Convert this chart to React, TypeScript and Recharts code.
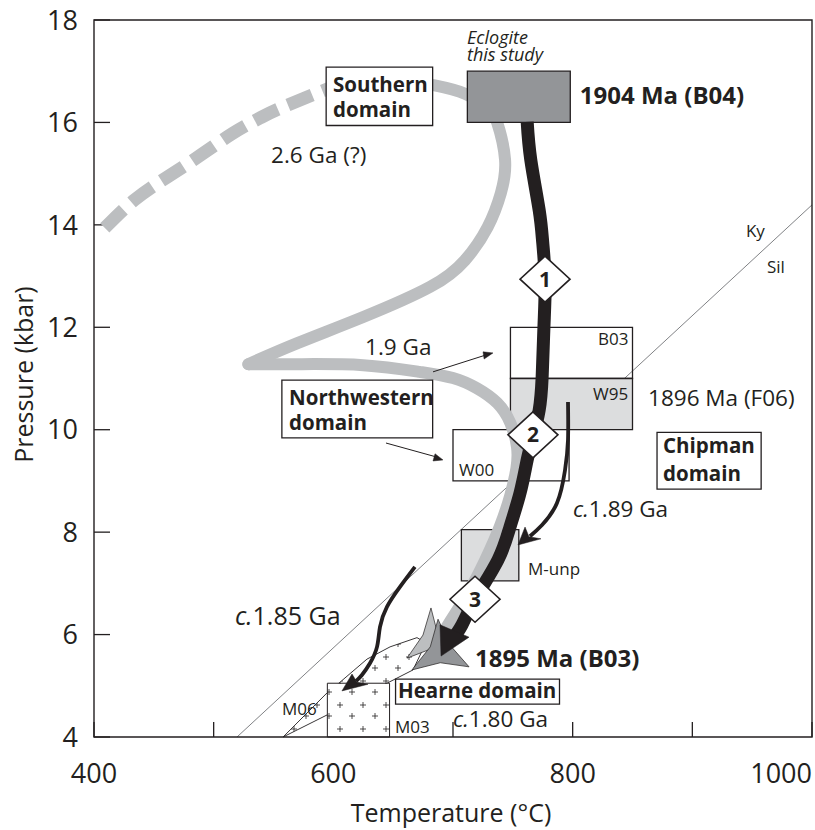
import { ComposedChart, Scatter, XAxis, YAxis } from "recharts";

type Pt = { t: number; p: number };
type Note = Pt & { text: string };
type Box = { t1: number; t2: number; p1: number; p2: number };

const INK = "#231f20";
const PATH_GREY = "#bcbec0";
const MID_GREY = "#939598";
const PALE_GREY = "#dcddde";
const FONT = "'Open Sans', 'Noto Sans', sans-serif";

if (typeof document !== "undefined") document.body.style.margin = "0";

// axes
const tempTicks = [400, 500, 600, 700, 800, 900, 1000];
const tempLabels = [400, 600, 800, 1000];
const presTicks = [4, 6, 8, 10, 12, 14, 16, 18];

// Ky = Sil reaction line
const kySil: Pt[] = [
  { t: 519.5, p: 4 },
  { t: 1000, p: 14.39 },
];

// Southern domain, 2.6 Ga (?) - dashed part
const south26: Pt[] = [
  { t: 409, p: 13.94 },
  { t: 434, p: 14.49 },
  { t: 461, p: 14.93 },
  { t: 489, p: 15.36 },
  { t: 516, p: 15.79 },
  { t: 539, p: 16.09 },
  { t: 558, p: 16.3 },
  { t: 600, p: 16.7 },
];

// Northwestern / Southern 1.9 Ga loop (grey)
const loopUpper: Pt[] = [
  { t: 598, p: 16.7 },
  { t: 647, p: 16.83 },
  { t: 683, p: 16.73 },
  { t: 710, p: 16.56 },
  { t: 729, p: 16.28 },
  { t: 737, p: 15.99 },
  { t: 743.5, p: 15.27 },
  { t: 740, p: 14.62 },
  { t: 729, p: 13.96 },
  { t: 710, p: 13.31 },
  { t: 681, p: 12.79 },
  { t: 625, p: 12.2 },
  { t: 570, p: 11.69 },
  { t: 529, p: 11.28 },
];
const loopLower: Pt[] = [
  { t: 529, p: 11.28 },
  { t: 570, p: 11.28 },
  { t: 625, p: 11.26 },
  { t: 672, p: 11.13 },
  { t: 700, p: 11.01 },
  { t: 720, p: 10.81 },
  { t: 737, p: 10.52 },
  { t: 748, p: 10.13 },
  { t: 753.5, p: 9.66 },
  { t: 753, p: 9.25 },
  { t: 748, p: 8.73 },
  { t: 739, p: 8.1 },
  { t: 727, p: 7.46 },
  { t: 712.5, p: 6.81 },
  { t: 697.5, p: 6.25 },
  { t: 687.5, p: 5.85 },
];

// eclogite path (this study)
const eclogitePath: Pt[] = [
  { t: 762, p: 16.01 },
  { t: 765, p: 15.27 },
  { t: 772, p: 14.29 },
  { t: 775, p: 13.65 },
  { t: 777, p: 12.92 },
  { t: 776, p: 12.01 },
  { t: 774.5, p: 11.03 },
  { t: 772, p: 10.38 },
  { t: 767, p: 9.88 },
  { t: 762, p: 9.41 },
  { t: 756, p: 8.76 },
  { t: 747.6, p: 8.1 },
  { t: 737.6, p: 7.46 },
  { t: 718.4, p: 6.69 },
  { t: 707.5, p: 6.19 },
  { t: 699, p: 5.89 },
];
const eclogiteHead: Pt[] = [
  { t: 690, p: 5.58 },
  { t: 713.4, p: 5.95 },
  { t: 689.1, p: 6.19 },
];

// c.1.89 Ga and c.1.85 Ga paths
const path189: Pt[] = [
  { t: 796.1, p: 10.54 },
  { t: 796.1, p: 9.8 },
  { t: 793.6, p: 9.21 },
  { t: 786.9, p: 8.57 },
  { t: 774.4, p: 8.14 },
  { t: 764.3, p: 7.92 },
];
const head189: Pt[] = [
  { t: 754.3, p: 7.75 },
  { t: 760.2, p: 8.1 },
  { t: 763.5, p: 7.91 },
  { t: 773.5, p: 7.87 },
];
const path185: Pt[] = [
  { t: 668.2, p: 7.32 },
  { t: 655.7, p: 6.93 },
  { t: 644.8, p: 6.54 },
  { t: 639, p: 6.15 },
  { t: 636.5, p: 5.76 },
  { t: 630.6, p: 5.44 },
  { t: 623.9, p: 5.21 },
  { t: 619, p: 5.09 },
];
const head185: Pt[] = [
  { t: 607.2, p: 4.9 },
  { t: 615.6, p: 5.23 },
  { t: 619.8, p: 5.07 },
  { t: 629, p: 5.03 },
];

// pointer arrows
const pointer19: Pt[] = [
  { t: 683.3, p: 11.13 },
  { t: 727.6, p: 11.46 },
];
const pointer19Head: Pt[] = [
  { t: 733.4, p: 11.5 },
  { t: 726, p: 11.38 },
  { t: 725.1, p: 11.52 },
];
const pointerNW: Pt[] = [
  { t: 644, p: 9.74 },
  { t: 685.8, p: 9.47 },
];
const pointerNWHead: Pt[] = [
  { t: 691.6, p: 9.41 },
  { t: 683.3, p: 9.39 },
  { t: 685, p: 9.53 },
];

// 1895 Ma (B03) fields
const fieldLight: Pt[] = [
  { t: 681.6, p: 6.52 },
  { t: 674.9, p: 5.99 },
  { t: 661.6, p: 5.54 },
  { t: 680.5, p: 5.71 },
  { t: 699.2, p: 5.66 },
  { t: 687, p: 6.03 },
];
const fieldDark: Pt[] = [
  { t: 687.5, p: 6.3 },
  { t: 681, p: 5.76 },
  { t: 665.7, p: 5.31 },
  { t: 689.4, p: 5.45 },
  { t: 713.4, p: 5.37 },
  { t: 697.6, p: 5.79 },
];

// Hearne domain field (M06 / M03)
const hearneField: Pt[] = [
  { t: 558, p: 4.0 },
  { t: 594.7, p: 4.86 },
  { t: 605.6, p: 5.07 },
  { t: 628.1, p: 5.52 },
  { t: 647.4, p: 5.76 },
  { t: 669.9, p: 5.94 },
  { t: 677.4, p: 5.84 },
  { t: 666.6, p: 5.31 },
  { t: 646.5, p: 5.07 },
  { t: 594.7, p: 4.43 },
];

// P-T boxes
const eclogiteBox: Box = { t1: 712, t2: 798, p1: 16, p2: 17 };
const b03Box: Box = { t1: 748, t2: 850, p1: 11, p2: 12 };
const w95Box: Box = { t1: 748, t2: 850, p1: 10, p2: 11 };
const w00Box: Box = { t1: 700, t2: 797, p1: 9, p2: 10 };
const mUnpBox: Box = { t1: 707, t2: 755, p1: 7.05, p2: 8.05 };
const m03Box: Box = { t1: 595, t2: 647, p1: 4, p2: 5.05 };
const southernBox: Box = { t1: 594, t2: 683, p1: 15.94, p2: 17.08 };
const northwesternBox: Box = { t1: 557, t2: 683, p1: 9.84, p2: 10.97 };
const chipmanBox: Box = { t1: 870.5, t2: 957.5, p1: 8.84, p2: 9.95 };
const hearneBox: Box = { t1: 652, t2: 789, p1: 4.64, p2: 5.13 };
const frameBox: Box = { t1: 400, t2: 1000, p1: 4, p2: 18 };

// text
const eclogiteNote: Note[] = [
  { t: 711.7, p: 17.53, text: "Eclogite" },
  { t: 711.7, p: 17.2, text: "this study" },
];
const ageBold: Note[] = [
  { t: 806, p: 16.36, text: "1904 Ma (B04)" },
  { t: 718.4, p: 5.37, text: "1895 Ma (B03)" },
];
const domainNames: Note[] = [
  { t: 599.7, p: 16.59, text: "Southern" },
  { t: 599.7, p: 16.11, text: "domain" },
  { t: 563, p: 10.48, text: "Northwestern" },
  { t: 563, p: 9.99, text: "domain" },
  { t: 875.5, p: 9.55, text: "Chipman" },
  { t: 875.5, p: 9.0, text: "domain" },
  { t: 654, p: 4.76, text: "Hearne domain" },
];
const ageNotes: Note[] = [
  { t: 548, p: 15.21, text: "2.6 Ga (?)" },
  { t: 626.5, p: 11.46, text: "1.9 Ga" },
  { t: 863, p: 10.46, text: "1896 Ma (F06)" },
];
const circaNotes: Note[] = [
  { t: 800.3, p: 8.3, text: "1.89 Ga" },
  { t: 700, p: 4.2, text: "1.80 Ga" },
];
const circaBig: Note[] = [{ t: 517.8, p: 6.19, text: "1.85 Ga" }];
const refNotes: Note[] = [
  { t: 821.2, p: 11.65, text: "B03" },
  { t: 817, p: 10.58, text: "W95" },
  { t: 705, p: 9.1, text: "W00" },
  { t: 762.7, p: 7.16, text: "M-unp" },
  { t: 557.1, p: 4.43, text: "M06" },
  { t: 651.5, p: 4.08, text: "M03" },
  { t: 944.8, p: 13.76, text: "Ky" },
  { t: 962.4, p: 13.06, text: "Sil" },
];
const stages: Note[] = [
  { t: 776.9, p: 12.94, text: "1" },
  { t: 766.8, p: 9.9, text: "2" },
  { t: 718.4, p: 6.69, text: "3" },
];

const corners = (b: Box): Pt[] => [
  { t: b.t1, p: b.p1 },
  { t: b.t2, p: b.p1 },
  { t: b.t2, p: b.p2 },
  { t: b.t1, p: b.p2 },
];

const noDot = () => <g />;

function shape(data: Pt[], style: any, curve = "linearClosed") {
  return (
    <Scatter
      data={data}
      shape={noDot}
      line={style}
      lineType="joint"
      lineJointType={curve}
      isAnimationActive={false}
    />
  );
}

function notes(data: Note[], style: any, prefix?: string) {
  return (
    <Scatter
      data={data}
      isAnimationActive={false}
      shape={(s: any) => (
        <text x={s.cx} y={s.cy} fill={INK} fontFamily={FONT} {...style}>
          {prefix ? <tspan fontStyle="italic">{prefix}</tspan> : null}
          {s.payload.text}
        </text>
      )}
    />
  );
}

const boxStyle = (fill: string) => ({ fill, stroke: INK, strokeWidth: 1.3 });
const thin = { fill: "none", stroke: INK, strokeWidth: 1 };
const solidHead = { fill: INK, stroke: INK, strokeWidth: 0.5 };

const TempTick = (props: any) => {
  const v = props.payload.value;
  if (!tempLabels.includes(v)) return <g />;
  return (
    <text
      x={props.x}
      y={props.y}
      textAnchor={v === 1000 ? "end" : "middle"}
      fill={INK}
      fontFamily={FONT}
      fontSize={27}
    >
      {v}
    </text>
  );
};

const PresTick = (props: any) => (
  <text x={props.x} y={props.y} dy="0.36em" textAnchor="end" fill={INK} fontFamily={FONT} fontSize={27}>
    {props.payload.value}
  </text>
);

const TempTitle = (props: any) => {
  const v = props.viewBox;
  return (
    <text x={v.x + v.width / 2 - 2} y={v.y + 85} textAnchor="middle" fill={INK} fontFamily={FONT} fontSize={25}>
      Temperature (°C)
    </text>
  );
};

const PresTitle = (props: any) => {
  const v = props.viewBox;
  const cx = v.x + 33;
  const cy = v.y + v.height / 2 - 4;
  return (
    <text
      transform={`translate(${cx},${cy}) rotate(-90)`}
      textAnchor="middle"
      fill={INK}
      fontFamily={FONT}
      fontSize={25}
    >
      Pressure (kbar)
    </text>
  );
};

export default function App() {
  return (
    <div style={{ position: "relative", width: 815, height: 830, background: "#fff" }}>
      <svg width={0} height={0} style={{ position: "absolute" }}>
        <defs>
          <pattern id="plusFill" patternUnits="userSpaceOnUse" width={23} height={24}>
            <rect width={23} height={24} fill="#fff" />
            <path d="M4 20h6M7 17v6M15 9h6M18 6v6" stroke={INK} strokeWidth={0.8} />
          </pattern>
        </defs>
      </svg>
      <ComposedChart width={815} height={830} margin={{ top: 20, right: 3, bottom: 0, left: 0 }}>
        <XAxis
          type="number"
          dataKey="t"
          domain={[400, 1000]}
          ticks={tempTicks}
          interval={0}
          axisLine={false}
          tickSize={-15}
          tickMargin={61}
          tickLine={{ stroke: INK, strokeWidth: 1.3 }}
          tick={<TempTick />}
          height={93}
          label={<TempTitle />}
        />
        <YAxis
          type="number"
          dataKey="p"
          domain={[4, 18]}
          ticks={presTicks}
          interval={0}
          axisLine={false}
          tickSize={-16}
          tickMargin={32}
          tickLine={{ stroke: INK, strokeWidth: 1.3 }}
          tick={<PresTick />}
          width={94}
          label={<PresTitle />}
        />

        {shape(kySil, { fill: "none", stroke: "#808285", strokeWidth: 1 }, "linear")}
        {shape(hearneField, { fill: "url(#plusFill)", stroke: INK, strokeWidth: 0.9 })}
        {shape(corners(m03Box), { fill: "url(#plusFill)", stroke: INK, strokeWidth: 1 })}
        {shape(corners(b03Box), boxStyle("none"))}
        {shape(corners(w95Box), boxStyle(PALE_GREY))}
        {shape(corners(w00Box), boxStyle("#fff"))}
        {shape(corners(mUnpBox), boxStyle(PALE_GREY))}

        {shape(south26, { fill: "none", stroke: PATH_GREY, strokeWidth: 13, strokeDasharray: "26 11" }, "natural")}
        {shape(loopUpper, { fill: "none", stroke: PATH_GREY, strokeWidth: 12, strokeLinecap: "round" }, "natural")}
        {shape(loopLower, { fill: "none", stroke: PATH_GREY, strokeWidth: 12, strokeLinecap: "round" }, "natural")}

        {shape(corners(eclogiteBox), boxStyle(MID_GREY))}
        {shape(corners(southernBox), boxStyle("#fff"))}

        {shape(fieldLight, { fill: PATH_GREY, stroke: INK, strokeWidth: 0.7 })}
        {shape(fieldDark, { fill: MID_GREY, stroke: INK, strokeWidth: 0.7 })}

        {shape(eclogitePath, { fill: "none", stroke: INK, strokeWidth: 13 }, "natural")}
        {shape(eclogiteHead, solidHead)}

        {shape(path189, { fill: "none", stroke: INK, strokeWidth: 3.8 }, "natural")}
        {shape(head189, solidHead)}
        {shape(path185, { fill: "none", stroke: INK, strokeWidth: 3.8 }, "natural")}
        {shape(head185, solidHead)}
        {shape(pointer19, thin, "linear")}
        {shape(pointer19Head, solidHead)}
        {shape(pointerNW, thin, "linear")}
        {shape(pointerNWHead, solidHead)}

        <Scatter
          data={stages}
          isAnimationActive={false}
          shape={(s: any) => (
            <g>
              <polygon
                points={`${s.cx},${s.cy - 23} ${s.cx + 25},${s.cy} ${s.cx},${s.cy + 23} ${s.cx - 25},${s.cy}`}
                fill="#fff"
                stroke={INK}
                strokeWidth={1.6}
              />
              <text x={s.cx} y={s.cy + 7.5} textAnchor="middle" fill={INK} fontFamily={FONT} fontWeight={700} fontSize={21}>
                {s.payload.text}
              </text>
            </g>
          )}
        />

        {shape(corners(northwesternBox), boxStyle("#fff"))}
        {shape(corners(chipmanBox), boxStyle("#fff"))}
        {shape(corners(hearneBox), boxStyle("#fff"))}

        {notes(eclogiteNote, { fontSize: 18, fontStyle: "italic" })}
        {notes(ageBold, { fontSize: 24, fontWeight: 700 })}
        {notes(domainNames, { fontSize: 20.5, fontWeight: 700 })}
        {notes(ageNotes, { fontSize: 22.5 })}
        {notes(circaNotes, { fontSize: 22.5 }, "c.")}
        {notes(circaBig, { fontSize: 25 }, "c.")}
        {notes(refNotes, { fontSize: 17 })}

        {shape(corners(frameBox), { fill: "none", stroke: INK, strokeWidth: 1.4 })}
      </ComposedChart>
    </div>
  );
}
